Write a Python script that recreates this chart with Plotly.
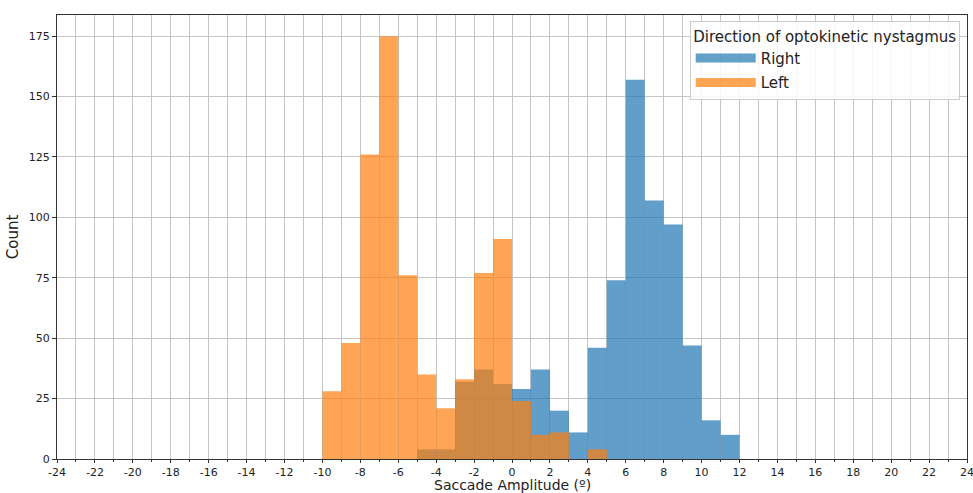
import plotly.graph_objects as go

# Histogram bins (left edges, width 1) and counts
right_bin_left = [-5, -4, -3, -2, -1, 0, 1, 2, 3, 4, 5, 6, 7, 8, 9, 10, 11]
right_counts = [4, 4, 32, 37, 31, 29, 37, 20, 11, 46, 74, 157, 107, 97, 47, 16, 10]

left_bin_left = [-10, -9, -8, -7, -6, -5, -4, -3, -2, -1, 0, 1, 2, 3, 4]
left_counts = [28, 48, 126, 175, 76, 35, 21, 33, 77, 91, 24, 10, 11, 0, 4]

bin_width = 1
x_ticks = list(range(-24, 25, 2))
y_ticks = [0, 25, 50, 75, 100, 125, 150, 175]

FONT = "DejaVu Sans"
RIGHT_COLOR = "#1f77b4"
LEFT_COLOR = "#ff7f0e"
ALPHA = 0.7

fig = go.Figure()
fig.add_trace(go.Bar(
    x=[b + bin_width / 2 for b in right_bin_left], y=right_counts, width=bin_width,
    name="Right", legendgroup="Right", showlegend=False,
    marker=dict(color=RIGHT_COLOR, line=dict(width=0)), opacity=ALPHA,
))
fig.add_trace(go.Bar(
    x=[b + bin_width / 2 for b in left_bin_left], y=left_counts, width=bin_width,
    name="Left", legendgroup="Left", showlegend=False,
    marker=dict(color=LEFT_COLOR, line=dict(width=0)), opacity=ALPHA,
))
# legend proxies (wide patch-like handles)
for name, col in [("Right", RIGHT_COLOR), ("Left", LEFT_COLOR)]:
    fig.add_trace(go.Scatter(
        x=[None], y=[None], mode="lines", name=name, legendgroup=name,
        line=dict(color=col, width=9), opacity=ALPHA,
    ))

fig.update_layout(
    width=973, height=493,
    margin=dict(l=57, r=6, t=15, b=34, autoexpand=False),
    barmode="overlay",
    plot_bgcolor="white", paper_bgcolor="white",
    font=dict(family=FONT, size=11, color="#222222"),
    legend=dict(
        title=dict(text="Direction of optokinetic nystagmus", font=dict(size=15, family=FONT), side="top center"),
        font=dict(size=15, family=FONT),
        x=0.992, y=0.986, xanchor="right", yanchor="top",
        bgcolor="rgba(255,255,255,0.85)", bordercolor="#cccccc", borderwidth=1,
        itemwidth=60, tracegroupgap=2,
    ),
    xaxis=dict(
        range=[-24, 24], tickmode="array", tickvals=x_ticks,
        ticktext=[str(t) for t in x_ticks],
        showgrid=True, gridcolor="#c4c4c4", gridwidth=1,
        ticks="outside", ticklen=3, tickcolor="#333333",
        minor=dict(dtick=1, showgrid=True, gridcolor="#c4c4c4", gridwidth=1, ticks="outside", ticklen=2, tickcolor="#333333"),
        showline=True, linecolor="#333333", linewidth=1, mirror=True,
        zeroline=False, automargin=False, ticklabeloverflow="allow",
        tickfont=dict(size=11),
    ),
    yaxis=dict(
        range=[0, 183.75], tickmode="array", tickvals=y_ticks,
        showgrid=True, gridcolor="#c4c4c4", gridwidth=1,
        ticks="outside", ticklen=4, tickcolor="#333333",
        showline=True, linecolor="#333333", linewidth=1, mirror=True,
        zeroline=False, automargin=False,
        title=dict(text="Count", font=dict(size=15, family=FONT), standoff=6),
        tickfont=dict(size=11),
    ),
    annotations=[dict(
        text="Saccade Amplitude (º)", xref="paper", yref="paper",
        x=0.5, y=-0.059, xanchor="center", yanchor="middle", showarrow=False,
        font=dict(size=14, family=FONT, color="#222222"),
    )],
)

fig.write_html("out.html", post_script="document.body.style.margin='0';",
               config={"displayModeBar": False})
